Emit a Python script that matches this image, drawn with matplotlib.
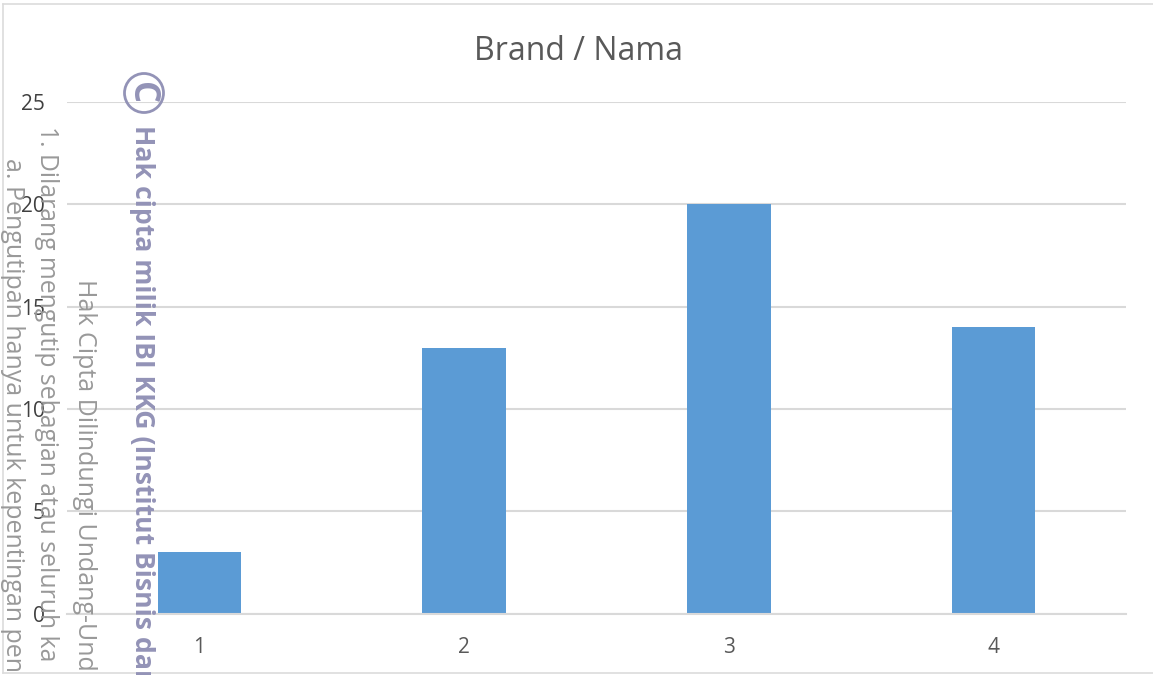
import matplotlib
matplotlib.use('Agg')
import matplotlib.pyplot as plt
from matplotlib.lines import Line2D
from matplotlib.patches import Circle
from matplotlib.transforms import IdentityTransform

W, H = 1153, 675

categories = [1, 2, 3, 4]
values = [3, 13, 20, 14]
y_ticks = [0, 5, 10, 15, 20, 25]

watermark_lines = ['a. Pengutipan hanya untuk kepentingan pen',
                   '1. Dilarang mengutip sebagian atau seluruh ka',
                   'Hak Cipta Dilindungi Undang-Und']

plt.rcParams['font.family'] = ['Open Sans', 'DejaVu Sans']

fig = plt.figure(figsize=(W / 100, H / 100), dpi=100)
ax = fig.add_axes([67 / W, 1 - 613.5 / H, (1126 - 67) / W, (613.5 - 102) / H])

ax.bar(categories, values, width=0.315, color='#5b9bd5', zorder=2)
ax.set_xlim(0.5, 4.5)
ax.set_ylim(0, 25)
ax.set_xticks(categories)
ax.set_yticks(y_ticks)
ax.grid(axis='y', color='#d9d9d9', linewidth=1.5, zorder=0)
ax.set_axisbelow(True)
for s in ['top', 'right', 'left']:
    ax.spines[s].set_visible(False)
ax.spines['bottom'].set_color('#d9d9d9')
ax.spines['bottom'].set_linewidth(1.5)
ax.tick_params(axis='x', length=0, pad=17, labelsize=15, labelcolor='#595959')
ax.tick_params(axis='y', length=0, pad=16, labelsize=15, labelcolor='#404040')


def fx(x):
    return x / W


def fy(y):
    return 1 - y / H


fig.text(fx(579), fy(52), 'Brand / Nama', fontsize=23, color='#595959', ha='center', va='center')

# chart frame
frame = dict(color='#dcdcdc', linewidth=1.2, transform=fig.transFigure)
fig.add_artist(Line2D([fx(3), fx(W)], [fy(4), fy(4)], **frame))
fig.add_artist(Line2D([fx(3), fx(3)], [fy(4), fy(673)], **frame))
fig.add_artist(Line2D([fx(3), fx(W)], [fy(673), fy(673)], **frame))

# rotated watermark over the chart
fig.text(fx(12), fy(158), watermark_lines[0], rotation=-90, fontsize=18, color='#999999',
         ha='center', va='top')
fig.text(fx(46), fy(126), watermark_lines[1], rotation=-90, fontsize=17.8, color='#999999',
         ha='center', va='top')
fig.text(fx(84), fy(279), watermark_lines[2], rotation=-90, fontsize=18, color='#999999',
         ha='center', va='top')
fig.text(fx(142), fy(125), 'Hak cipta milik IBI KKG (Institut Bisnis dan', rotation=-90, fontsize=19.2,
         fontweight='bold', color='#9393b7', ha='center', va='top')

# copyright mark
fig.add_artist(Circle((144, H - 93), 19.5, fill=False, edgecolor='#9393b7', linewidth=2,
                      transform=IdentityTransform()))
fig.text(fx(141), fy(93), 'C', rotation=-90, fontsize=25, fontweight='bold', color='#9393b7',
         ha='center', va='center')

fig.savefig('out.png', dpi=100)
